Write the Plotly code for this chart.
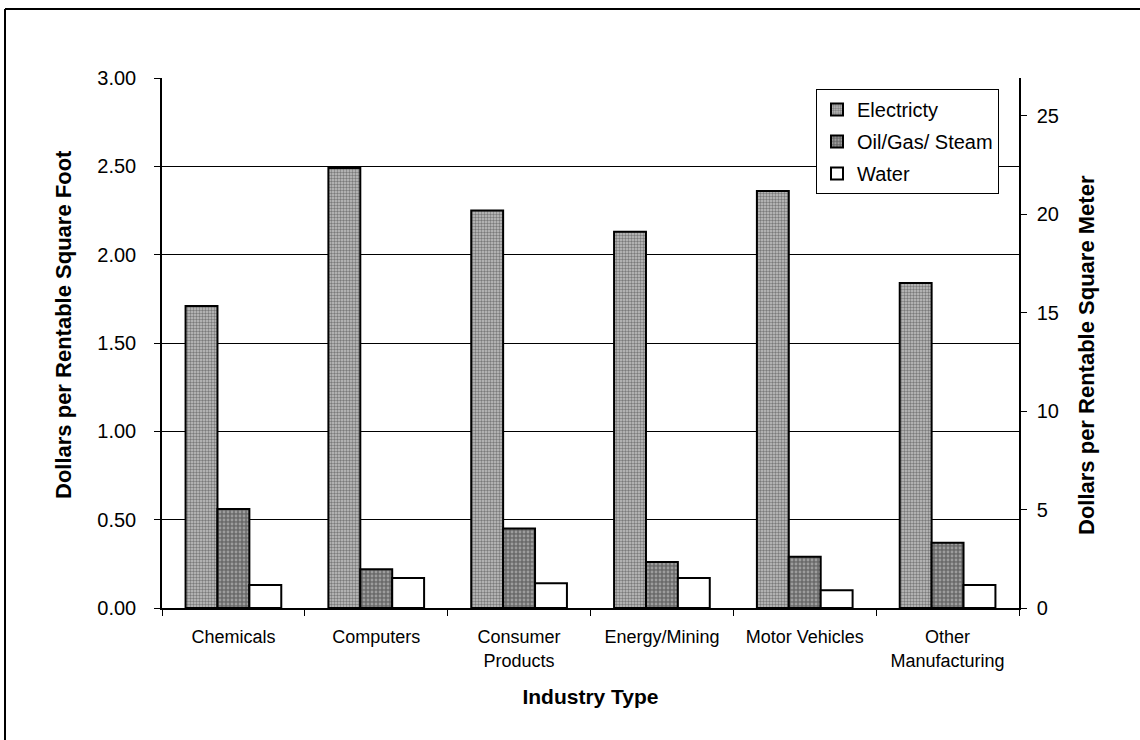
import plotly.graph_objects as go

categories = ["Chemicals", "Computers", "Consumer<br>Products", "Energy/Mining",
              "Motor Vehicles", "Other<br>Manufacturing"]
electricity = [1.71, 2.49, 2.25, 2.13, 2.36, 1.84]
oil_gas_steam = [0.56, 0.22, 0.45, 0.26, 0.29, 0.37]
water = [0.13, 0.17, 0.14, 0.17, 0.10, 0.13]
series_names = ["Electricty", "Oil/Gas/ Steam", "Water"]
left_ticks = [0, 0.5, 1.0, 1.5, 2.0, 2.5, 3.0]
right_ticks = [0, 5, 10, 15, 20, 25]
left_title = "Dollars per Rentable Square Foot"
right_title = "Dollars per Rentable Square Meter"
x_title = "Industry Type"

FONT = "Liberation Sans, Arial, sans-serif"

W, H = 1140, 740
L, R, T, B = 162, 1019, 78, 608


def px_x(p):
    return (p - L) / (R - L)


def px_y(p):
    return (B - p) / (B - T)


fig = go.Figure()
fig.add_trace(go.Bar(
    x=categories, y=electricity, name=series_names[0], legendgroup="a",
    marker=dict(color="#c4c4c4", line=dict(color="black", width=2),
                pattern=dict(shape=".", fgcolor="#303030", size=3, solidity=0.5,
                             fillmode="overlay")),
))
fig.add_trace(go.Bar(
    x=categories, y=oil_gas_steam, name=series_names[1], legendgroup="b",
    marker=dict(color="#6a6a6a", line=dict(color="black", width=2),
                pattern=dict(shape=".", fgcolor="#cfcfcf", size=4, solidity=0.4,
                             fillmode="overlay")),
))
fig.add_trace(go.Bar(
    x=categories, y=water, name=series_names[2], legendgroup="c",
    marker=dict(color="white", line=dict(color="black", width=2)),
))
# invisible trace to anchor the secondary axis
fig.add_trace(go.Scatter(x=categories, y=[v * 8.97 for v in electricity], yaxis="y2",
                         mode="markers", marker=dict(opacity=0), showlegend=False,
                         hoverinfo="skip"))

fig.update_layout(
    width=W, height=H,
    margin=dict(l=L, r=W - R, t=T, b=H - B, pad=0),
    paper_bgcolor="white", plot_bgcolor="white",
    font=dict(family=FONT, size=19, color="black"),
    barmode="group", bargap=0.33, bargroupgap=0,
    xaxis=dict(
        type="category", showline=True, linecolor="black", linewidth=1.5,
        ticks="outside", tickson="boundaries", ticklen=6, tickcolor="black",
        tickfont=dict(size=18), showgrid=False, ticklabelstandoff=12,
        title=dict(text="<b>" + x_title + "</b>", font=dict(size=21), standoff=20),
    ),
    yaxis=dict(
        range=[0, 3], tickvals=left_ticks, tickformat=".2f",
        showline=True, linecolor="black", linewidth=1.5,
        ticks="outside", ticklen=6, tickcolor="black",
        showgrid=True, gridcolor="black", gridwidth=1,
        zeroline=False, tickfont=dict(size=20), ticklabelstandoff=14,
    ),
    yaxis2=dict(
        overlaying="y", side="right", range=[0, 26.93], tickvals=right_ticks,
        showline=True, linecolor="black", linewidth=1.5,
        ticks="outside", ticklen=6, tickcolor="black",
        showgrid=False, zeroline=False, tickfont=dict(size=20), ticklabelstandoff=6,
    ),
    legend=dict(
        x=px_x(816), y=px_y(89), xanchor="left", yanchor="top",
        bgcolor="white", bordercolor="black", borderwidth=1,
        font=dict(size=20), traceorder="grouped", tracegroupgap=3,
        itemwidth=30,
    ),
    annotations=[
        dict(text="<b>" + left_title + "</b>", xref="paper", yref="paper",
             x=px_x(63), y=px_y(325), textangle=-90, showarrow=False,
             xanchor="center", yanchor="middle", font=dict(size=22)),
        dict(text="<b>" + right_title + "</b>", xref="paper", yref="paper",
             x=px_x(1086), y=px_y(355), textangle=-90, showarrow=False,
             xanchor="center", yanchor="middle", font=dict(size=22)),
    ],
    shapes=[
        dict(type="line", xref="paper", yref="paper", x0=px_x(5), x1=1.2,
             y0=px_y(9), y1=px_y(9), line=dict(color="black", width=2)),
        dict(type="line", xref="paper", yref="paper", x0=px_x(5), x1=px_x(5),
             y0=px_y(9), y1=-0.3, line=dict(color="black", width=2)),
    ],
)

fig.write_html("out.html", config={"displayModeBar": False},
               post_script="document.body.style.margin='0';")
